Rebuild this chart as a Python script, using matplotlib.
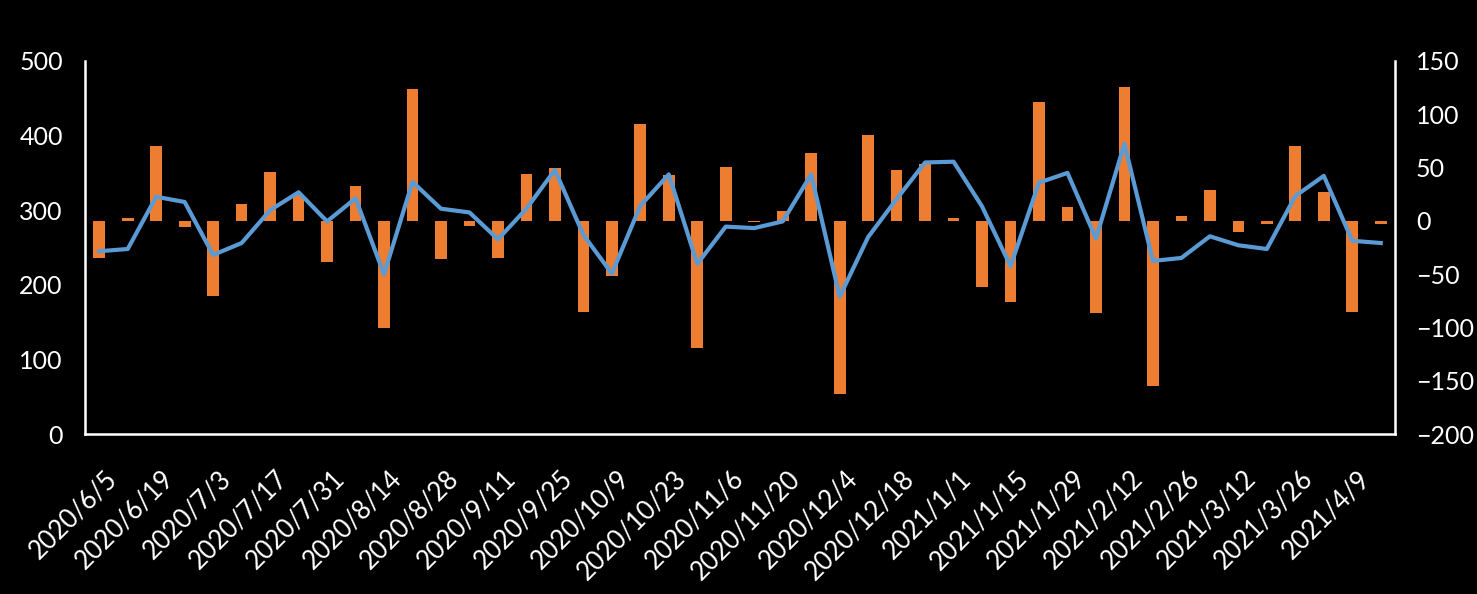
import matplotlib
matplotlib.use("Agg")
import matplotlib.pyplot as plt
from matplotlib.transforms import ScaledTranslation

dates = ["2020/6/5", "2020/6/12", "2020/6/19", "2020/6/26", "2020/7/3", "2020/7/10",
         "2020/7/17", "2020/7/24", "2020/7/31", "2020/8/7", "2020/8/14", "2020/8/21",
         "2020/8/28", "2020/9/4", "2020/9/11", "2020/9/18", "2020/9/25", "2020/10/2",
         "2020/10/9", "2020/10/16", "2020/10/23", "2020/10/30", "2020/11/6", "2020/11/13",
         "2020/11/20", "2020/11/27", "2020/12/4", "2020/12/11", "2020/12/18", "2020/12/25",
         "2021/1/1", "2021/1/8", "2021/1/15", "2021/1/22", "2021/1/29", "2021/2/5",
         "2021/2/12", "2021/2/19", "2021/2/26", "2021/3/5", "2021/3/12", "2021/3/19",
         "2021/3/26", "2021/4/2", "2021/4/9", "2021/4/16"]

line_values = [245, 248, 318, 311, 240, 256, 300, 324, 285, 316,
               214, 338, 302, 297, 261, 302, 354, 267, 215, 306,
               348, 228, 278, 276, 285, 348, 184, 264, 315, 364,
               365, 305, 225, 337, 350, 262, 389, 232, 236, 265,
               253, 248, 319, 346, 259, 256]

bar_values = [-34.5, 2.4, 70.3, -5.4, -70.2, 15.9, 45.9, 24.3, -38.3, 32.7,
              -100.2, 123.8, -35.8, -4.5, -34.5, 44.0, 49.6, -85.2, -51.4, 90.9,
              43.1, -119.0, 50.6, -0.7, 9.3, 63.7, -162.4, 80.6, 47.8, 53.4,
              2.4, -61.7, -75.8, 111.6, 13.0, -86.1, 125.6, -154.6, 4.6, 29.0,
              -10.1, -2.6, 70.3, 27.1, -85.2, -2.6]

left_ticks = [0, 100, 200, 300, 400, 500]
right_ticks = [-200, -150, -100, -50, 0, 50, 100, 150]

plt.rcParams['font.family'] = ['Lato', 'DejaVu Sans']

fig = plt.figure(figsize=(14.77, 5.94), dpi=100, facecolor='black')
ax = fig.add_axes([85/1477, 1 - 434/594, (1395-85)/1477, (434-61)/594])
ax2 = ax.twinx()

x = list(range(len(dates)))
ax2.bar(x, bar_values, width=0.41, color='#ED7D31')
ax.plot(x, line_values, color='#5B9BD5', lw=3.0, solid_joinstyle='round')

ax.set_zorder(ax2.get_zorder() + 1)
ax.patch.set_visible(False)
ax2.patch.set_visible(False)

ax.set_xlim(-0.5, len(dates) - 0.5)
ax.set_ylim(0, 500)
ax2.set_ylim(-200, 150)
ax.set_yticks(left_ticks)
ax2.set_yticks(right_ticks)

for a in (ax, ax2):
    for s in a.spines.values():
        s.set_visible(False)
ax.spines['left'].set_visible(True)
ax.spines['bottom'].set_visible(True)
ax2.spines['right'].set_visible(True)
for s in (ax.spines['left'], ax.spines['bottom'], ax2.spines['right']):
    s.set_color('white')
    s.set_linewidth(1.8)

ax.tick_params(axis='y', length=0, pad=16, labelcolor='white', labelsize=18)
ax2.tick_params(axis='y', length=0, pad=15, labelcolor='white', labelsize=18)

ax.set_xticks(x[::2])
ax.set_xticklabels(dates[::2], rotation=45, ha='right', va='top',
                   rotation_mode='anchor', color='white', fontsize=18.5)
ax.tick_params(axis='x', length=0, pad=23)
offset = ScaledTranslation(5/100, 0, fig.dpi_scale_trans)
for lab in ax.get_xticklabels():
    lab.set_transform(lab.get_transform() + offset)

fig.savefig('out.png', dpi=100, facecolor='black')
